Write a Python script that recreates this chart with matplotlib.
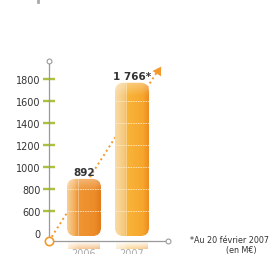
import numpy as np
import matplotlib
matplotlib.use('Agg')
import matplotlib.pyplot as plt
from matplotlib.patches import FancyBboxPatch
from matplotlib.colors import to_rgb

years = ['2006', '2007']
values = [892, 1766]
value_labels = ['892', '1 766*']
tick_values = [0, 600, 800, 1000, 1200, 1400, 1600, 1800]
tick_labels = ['0', '600', '800', '1000', '1200', '1400', '1600', '1800']
footnote = ['*Au 20 février 2007', '(en M€)']

ORANGE = '#f39a2b'
GREY = '#9a9a9a'
GREEN = '#a9c23f'


def to_axis(v):
    # broken scale: 0 -> 0, 600 -> 1, then one step per 200
    return np.interp(v, tick_values, np.arange(len(tick_values)))


plt.rcParams['font.family'] = ['DejaVu Sans']
fig = plt.figure(figsize=(2.7, 2.55), dpi=100)
ax = fig.add_axes([49 / 270, 13 / 255, 119 / 270, 180 / 255])
ax.set_xlim(-0.729, 1.75)
ax.set_ylim(-0.364, 7.818)

bar_stops = [
    [(0.0, '#f7cf98'), (0.22, '#f3ad58'), (0.3, '#ef9634'), (0.8, '#ec8c28'), (1.0, '#df7818')],
    [(0.0, '#f8dba8'), (0.28, '#f6c778'), (0.34, '#f8b53a'), (0.8, '#f6a62d'), (1.0, '#ec881c')],
]

W = 0.71
BASE = -0.14


def gradient(stops, t):
    pos = [s[0] for s in stops]
    cols = np.array([to_rgb(s[1]) for s in stops])
    return np.stack([np.interp(t, pos, cols[:, k]) for k in range(3)], axis=-1)


for i, (v, stops) in enumerate(zip(values, bar_stops)):
    top = to_axis(v)
    x0 = i - W / 2
    patch = FancyBboxPatch((x0, BASE), W, top - BASE,
                           boxstyle='round,pad=0,rounding_size=0.18',
                           mutation_aspect=2.18, fc='none', ec='none', zorder=3)
    ax.add_patch(patch)
    nx, ny = 80, 200
    row = gradient(stops, np.linspace(0, 1, nx))
    img = np.repeat(row[None, :, :], ny, axis=0)
    yy = np.linspace(BASE, top, ny)
    hl = np.clip(1 - (top - yy) / 0.6, 0, 1)[:, None] * 0.35
    img = img * (1 - hl[:, :, None]) + hl[:, :, None]
    im = ax.imshow(img, extent=[x0, x0 + W, BASE, top], origin='lower',
                   aspect='auto', zorder=3, interpolation='bilinear')
    im.set_clip_path(patch)
    # inner dotted lines
    for k in range(1, len(tick_values)):
        if k < top - 0.35:
            ln, = ax.plot([x0, x0 + W], [k, k], color='#fff3d8', alpha=0.8,
                          lw=0.6, ls=(0, (2, 1)), zorder=4)
            ln.set_clip_path(patch)
    vl, = ax.plot([x0 + 0.23, x0 + 0.23], [BASE, top], color='white',
                  alpha=0.35, lw=0.7, zorder=4)
    vl.set_clip_path(patch)
    # reflection below axis
    ref = np.zeros((20, nx, 4))
    ref[:, :, :3] = row[None, :, :]
    ref[:, :, 3] = np.linspace(0.5, 0.0, 20)[:, None]
    ax.imshow(ref, extent=[x0 + 0.03, x0 + W - 0.03, -0.42, -0.75], origin='upper',
              aspect='auto', zorder=2, clip_on=False)
    ax.annotate(value_labels[i], (i, top), xytext=(0, 1.5),
                textcoords='offset points', ha='center', va='bottom',
                fontsize=7.5, fontweight='bold', color='#333333', zorder=6)

ax.set_xlim(-0.729, 1.75)
ax.set_ylim(-0.364, 7.818)

# trend arrow
ax.plot([0, 0.935], [0, 0.967], transform=ax.transAxes, color=ORANGE,
        ls=(0, (1, 1.6)), lw=1.4, zorder=1, clip_on=False)
ax.annotate('', xy=(0.955, 0.982), xycoords='axes fraction',
            xytext=(0.92, 0.945), textcoords='axes fraction',
            arrowprops=dict(arrowstyle='-|>,head_length=0.5,head_width=0.3',
                            color=ORANGE, lw=0, mutation_scale=12),
            zorder=5)
ax.plot([0], [0], transform=ax.transAxes, marker='o', ms=6, mfc='white',
        mec=ORANGE, mew=1.2, clip_on=False, zorder=7)
ax.plot([0], [1], transform=ax.transAxes, marker='o', ms=3.5, mfc='white',
        mec=GREY, mew=0.8, clip_on=False, zorder=7)
ax.plot([1], [0], transform=ax.transAxes, marker='o', ms=3.5, mfc='white',
        mec=GREY, mew=0.8, clip_on=False, zorder=7)

for s in ['top', 'right']:
    ax.spines[s].set_visible(False)
for s in ['left', 'bottom']:
    ax.spines[s].set_color(GREY)
    ax.spines[s].set_linewidth(0.9)

ax.set_yticks(to_axis(tick_values))
ax.set_yticklabels(tick_labels, fontsize=7, color='#333333')
ax.tick_params(axis='y', direction='inout', length=12 * 0.72,
               width=2.4 * 0.72, color=GREEN, pad=1.5)
ax.yaxis.get_major_ticks()[0].tick1line.set_visible(False)

ax.set_xticks(range(len(years)))
ax.set_xticklabels(years, fontsize=7, color='#aaaaaa')
ax.tick_params(axis='x', length=0, pad=4.8)

fig.text(269 / 270, 14 / 255, footnote[0], ha='right', va='center',
         fontsize=5.8, color='#333333')
fig.text(257 / 270, 4 / 255, footnote[1], ha='right', va='center',
         fontsize=5.8, color='#333333')
fig.add_artist(plt.Line2D([38 / 270, 38 / 270], [1.0, 252 / 255],
                          color='#aaaaaa', lw=2))

fig.savefig('out.png', dpi=100)
